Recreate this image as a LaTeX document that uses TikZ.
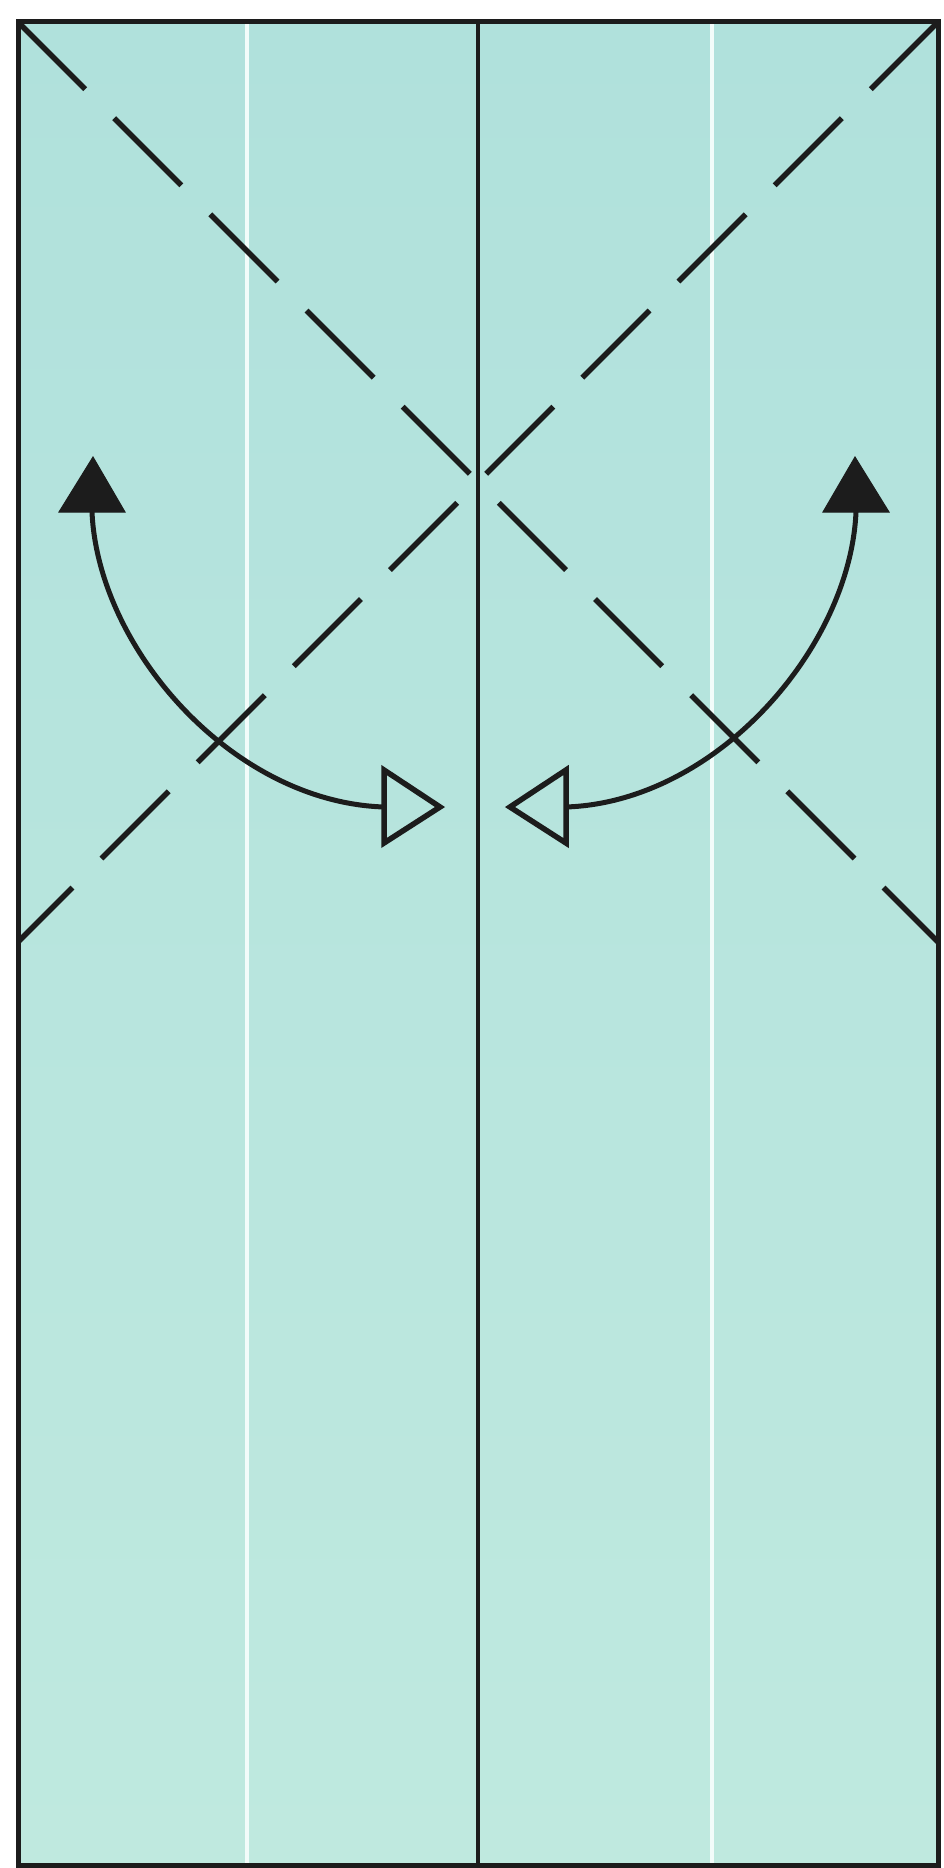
\documentclass[tikz,border=0pt]{standalone}
\usetikzlibrary{calc}
\definecolor{paperA}{RGB}{176,225,220}
\definecolor{paperB}{RGB}{191,233,223}
\definecolor{ink}{RGB}{28,28,28}
\definecolor{crease}{RGB}{242,252,250}
\tikzset{
  edgeline/.style={draw=ink, line width=5pt},
  midline/.style={draw=ink, line width=4.5pt},
  whiteline/.style={draw=crease, line width=3.5pt},
  valley/.style={draw=ink, line width=5.5pt, dash pattern=on 95pt off 41pt, line cap=butt},
  movearrow/.style={draw=ink, line width=5pt},
  filledtip/.style={fill=ink, draw=ink, line width=1pt, line join=miter},
  opentip/.style={draw=ink, line width=5.5pt, line join=miter}
}
\begin{document}
\begin{tikzpicture}[x=1pt, y=-1pt]
\useasboundingbox (0,0) rectangle (943,1868);
\fill[white] (0,0) rectangle (943,1868);
% paper corners
\coordinate (TL) at (18,22);
\coordinate (TR) at (938,22);
\coordinate (BL) at (18,1865);
\coordinate (BR) at (938,1865);
\coordinate (LE) at (18,942);
\coordinate (RE) at (938,942);
\coordinate (MT) at (478,22);
\coordinate (MB) at (478,1865);
\coordinate (W1T) at (247,24);
\coordinate (W1B) at (247,1863);
\coordinate (W2T) at (712,24);
\coordinate (W2B) at (712,1863);
% paper
\shade[top color=paperA, bottom color=paperB] (TL) rectangle (BR);
% white crease lines
\draw[whiteline] (W1T) -- (W1B);
\draw[whiteline] (W2T) -- (W2B);
% centre line
\draw[midline] (MT) -- (MB);
% dashed diagonals
\draw[valley] (TL) -- (RE);
\draw[valley] (TR) -- (LE);
% left arrow
\coordinate (LA0) at (92,512);
\coordinate (LA1) at (384,807);
\draw[movearrow] (LA0) .. controls (98,648) and (232,802) .. (LA1);
\filldraw[filledtip] (93,457) -- (125,512) -- (59,512) -- cycle;
\draw[opentip] (384,770) -- (440,807) -- (384,843) -- cycle;
% right arrow
\coordinate (RA0) at (856,512);
\coordinate (RA1) at (566,807);
\draw[movearrow] (RA0) .. controls (850,648) and (716,802) .. (RA1);
\filldraw[filledtip] (855,457) -- (889,512) -- (823,512) -- cycle;
\draw[opentip] (566,770) -- (510,807) -- (566,843) -- cycle;
% border
\draw[edgeline] (TL) rectangle (BR);
\end{tikzpicture}
\end{document}
